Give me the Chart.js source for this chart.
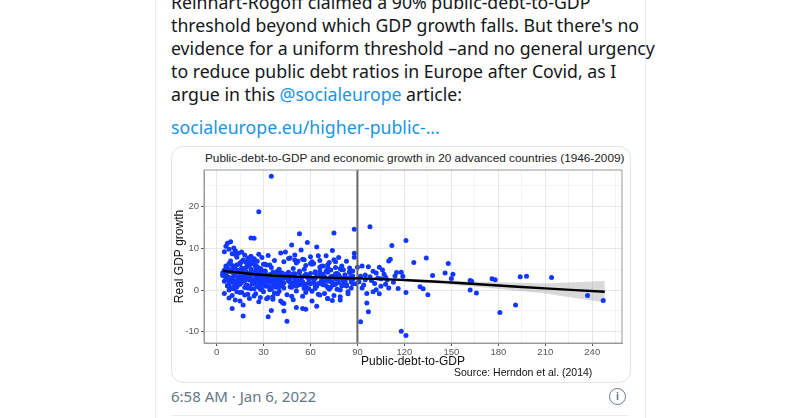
<!DOCTYPE html>
<html><head><meta charset="utf-8">
<script src="https://cdn.jsdelivr.net/npm/chart.js@4"></script>
<style>
body{margin:0;width:800px;height:418px;background:#fff;overflow:hidden;position:relative;font-family:"Segoe UI","Noto Sans",sans-serif}
.card{position:absolute;left:155px;top:-10px;width:489px;height:440px;border-left:1px solid #e6ecf0;border-right:1px solid #e6ecf0}
.txt{position:absolute;left:171px;font-size:17.7px;color:#14171a;white-space:nowrap;line-height:23px}
.lk{color:#1b95e0}
.img{position:absolute;left:171px;top:146px;width:458px;height:235px;border:1px solid #dfe5ea;border-radius:12px}
.ttl{position:absolute;left:205px;top:151px;font:11.8px "Liberation Sans",Arial;color:#222}
.src{position:absolute;left:454px;top:366px;font:10.5px "Liberation Sans",Arial;color:#111}
.time{position:absolute;left:171px;top:386px;font-size:15px;color:#657786}
.info{position:absolute;left:609px;top:388px;width:15px;height:15px;border:1.3px solid #657786;border-radius:50%;font:bold 11px "Liberation Sans";color:#657786;text-align:center;line-height:15px}
.div{position:absolute;left:171px;top:415px;width:458px;border-top:1px solid #e6ecf0}
</style></head><body>
<div class="card"></div>
<div class="txt" style="top:-9px">Reinhart-Rogoff claimed a 90% public-debt-to-GDP</div>
<div class="txt" style="top:14px">threshold beyond which GDP growth falls. But there's no</div>
<div class="txt" style="top:37px">evidence for a uniform threshold –and no general urgency</div>
<div class="txt" style="top:60px">to reduce public debt ratios in Europe after Covid, as I</div>
<div class="txt" style="top:83px">argue in this <span class="lk">@socialeurope</span> article:</div>
<div class="txt lk" style="top:116px">socialeurope.eu/higher-public-...</div>
<div class="img"></div>
<div class="ttl">Public-debt-to-GDP and economic growth in 20 advanced countries (1946-2009)</div>
<div style="position:absolute;left:172px;top:148px;width:457px;height:233px"><canvas id="c"></canvas></div>
<div class="src">Source: Herndon et al. (2014)</div>
<div class="time">6:58 AM · Jan 6, 2022</div>
<div class="info">i</div>
<div class="div"></div>
<script>
const debt = [35,27,22,24,53,75,88,98,112,121,126,134,148,146,151,138,150,162,163,162,166,176,178,181,191,194,198,214,237,247,118,121,92,97,96,17,33,45,43,51,55,57,64,10,17,35,41,130,132,135,121,116,104,108,110,115,118,119,110,111,100,104,106,97,98,95,93,90,88,88,
 5,6,7,8,9,10,11,12,13,14,15,16,17,18,19,20,21,22,23,24,25,26,27,28,29,30,
 5,6,7,8,9,10,11,12,13,14,15,16,17,18,19,20,21,22,23,24,25,26,27,28,29,30,
 4,6,7,9,10,12,13,15,16,18,19,21,22,24,25,27,28,30,31,33,34,36,37,39,40,42,
 5,7,8,9,11,12,14,15,17,18,20,21,23,24,26,27,29,30,32,33,35,36,38,39,41,42,
 31,33,35,37,39,41,43,45,47,49,51,53,55,57,59,61,63,65,67,69,71,73,75,77,79,81,
 32,34,36,38,40,42,44,46,48,50,52,54,56,58,60,62,64,66,68,70,72,74,76,78,80,82,
 44,46,48,50,52,54,56,58,60,62,64,66,68,70,72,74,76,78,80,83,85,87,
 45,47,49,51,53,55,57,59,61,63,65,67,69,71,73,75,77,79,81,84,86,
 6,8,11,14,18,21,25,29,33,38,42,47,52,57,62,67,72,77,82,86,
 7,9,12,16,19,23,26,31,36,40,44,49,54,58,63,68,73,78,83,87,
 8,10,13,15,20,22,28,32,37,43,48,56,61,66,71,74,79,84,
 91,93,95,99,101,102,103,105,107,109,113,114,100,94,96,102,105,108,92,99,
 9,12,16,20,24,28,34,40,46,50,56,60,66,70,76,80,85,
 4,5,6,7,8,9,10,11,12,13,14,15,16,17,18,19,20,21,22,23,24,25,26,27,28,29,31,32,33,34,
 4,5,6,7,8,9,10,11,12,13,14,15,16,17,18,19,20,21,22,23,24,25,26,27,28,29,31,32,33,34,
 35,36,37,38,39,40,41,43,44,46,47,48,49,50,52,53,54,55,57,58,59,60,62,63,64,65,67,68,69,70,
 71,72,73,74,76,77,78,79,81,82,83,84,85,86,87,89,36,41,46,51,56,61,66,71,76,81,
 11,15,19,23,27,31,35,39,43,47,51,55,59,63,67,71,75,79,83,87];
const growth = [27.3,18.8,12.5,12.4,13.5,13.7,14.6,15.2,10.7,11.9,6.6,7.7,6.4,4.1,3.8,3.5,2.8,2.3,2.1,0,-0.7,2.7,2.5,-5.4,-3.6,3.2,3.3,3,-1.3,-2.5,-9.9,-10.9,-7.6,-5.2,-3.1,-6.2,-6.4,-7.5,-5,-4.2,-4.4,-4.6,-3.9,-4.4,-3.6,-4.9,-2.6,0.8,0.3,-1.1,-0.6,0.4,-0.9,1.4,0.5,4.2,4.3,3.3,7,7.4,4.5,5.5,4.8,5.6,3.2,2.5,5.8,5.5,8.8,7.9,
 9.2,10.5,11.2,9.8,11.6,8.7,10.1,9.4,7.9,8.8,6.5,9.1,7.2,8.4,6.8,7.7,5.9,8.1,6.3,7.5,5.4,6.9,8.6,5.1,7.8,6.2,
 4.1,5.8,3.2,6.4,2.7,4.9,3.6,5.2,2.1,4.5,3.3,1.8,4.8,2.9,5.5,3.9,2.4,4.2,1.5,3.7,4.6,2.2,3.4,5.1,1.9,3.0,
 3.5,2.6,1.1,0.4,2.9,1.6,0.8,3.1,-0.5,2.3,1.2,0.6,3.8,1.7,-0.9,2.5,0.2,1.4,4.3,0.9,2.0,-1.6,1.3,3.2,-0.3,2.6,
 -0.8,1.0,-1.9,2.4,0.3,-2.4,1.8,-0.6,2.8,-1.2,0.5,-2.0,1.5,-1.4,0.9,-2.8,0.1,-0.4,2.2,-1.8,0.6,-2.2,1.1,-0.9,1.7,-3.0,
 6.2,8.3,5.4,7.1,4.6,8.9,6.8,3.9,7.7,5.2,6.5,4.1,7.4,5.9,3.6,6.8,4.4,8.2,5.7,3.2,6.1,4.8,7.3,3.5,5.1,2.8,
 2.4,3.7,1.6,4.2,2.9,1.1,3.5,2.2,0.7,3.9,1.8,2.6,0.4,3.1,1.5,2.8,0.9,3.6,1.9,2.3,0.2,3.3,1.4,2.7,1.0,2.1,
 9.1,7.6,10.8,8.4,6.9,9.6,7.3,11.4,8.0,6.4,10.3,7.1,5.8,8.2,6.6,9.5,5.4,7.8,4.9,6.9,5.3,4.6,
 -1.1,0.8,-2.3,-0.2,1.3,-1.5,-0.6,1.9,-2.6,0.4,-1.0,1.6,-0.8,-2.0,0.7,-1.3,0.2,-2.4,1.2,-0.4,0.5,
 4.0,2.2,5.6,1.4,4.4,3.1,2.6,4.7,3.4,2.5,4.1,3.0,2.3,3.8,2.7,3.5,2.1,3.9,2.4,3.2,
 2.8,4.6,1.2,5.0,0.7,2.5,3.9,1.0,4.3,0.8,3.6,1.7,2.9,0.5,4.1,1.3,2.2,3.7,1.1,2.6,
 0.0,-1.3,-0.4,-2.6,-1.0,0.3,-1.8,-2.1,-0.7,-3.2,-1.5,0.6,-0.3,-1.2,-2.0,-2.5,-1.6,-0.9,
 2.0,0.5,3.6,2.3,1.6,4.1,2.9,0.9,3.8,2.5,1.9,3.4,-0.4,1.2,-0.8,0.1,2.7,3.1,3.3,2.4,
 7.0,8.5,5.2,6.3,7.4,3.8,6.0,5.0,4.3,7.2,3.4,6.4,5.5,4.6,3.9,5.8,4.2,3.6,4.8,3.1,5.3,
 3.0,4.4,5.9,2.3,3.7,6.1,4.7,2.8,5.3,3.2,4.0,6.6,3.5,2.6,5.0,4.3,2.0,3.8,5.6,4.9,2.9,3.4,4.5,6.0,2.5,3.6,4.2,2.1,3.9,5.2,
 1.2,2.0,0.5,1.6,3.4,0.9,2.7,1.4,6.8,2.3,0.6,3.0,1.1,7.2,2.6,1.8,0.3,5.9,2.9,1.5,0.8,2.2,4.6,1.0,2.8,0.1,2.5,1.3,2.0,0.7,
 3.3,2.2,4.1,1.7,2.9,3.6,2.4,1.2,3.9,2.7,1.8,4.5,3.1,2.0,1.4,3.5,2.6,4.0,1.9,2.8,3.4,1.6,2.3,3.8,2.9,1.1,4.3,2.5,3.2,1.7,
 2.6,4.0,1.8,3.1,2.2,3.7,1.3,2.9,4.4,2.0,3.4,1.5,2.7,3.9,2.3,1.9,5.0,6.2,4.6,5.4,6.8,4.9,5.7,6.3,4.4,6.6,
 0.8,1.6,0.2,1.2,0.5,1.9,0.9,1.4,0.3,1.1,1.7,0.6,1.3,0.0,1.0,1.5,0.4,1.8,0.7,1.2];
const fitX = [4,30,60,90,120,150,180,210,248];
const fitY = [4.6,3.6,3.1,2.8,2.4,1.8,1.1,0.4,-0.4];
const bandHi = [5.1,3.9,3.3,3.0,2.7,2.3,1.9,1.6,2.2];
const bandLo = [4.1,3.3,2.9,2.5,2.1,1.3,0.3,-0.8,-3.0];

const pts = debt.map((d, i) => ({ x: d, y: growth[i] }));
const xy = (xs, ys) => xs.map((x, i) => ({ x: x, y: ys[i] }));
const line = { pointRadius: 0, showLine: true, type: 'line' };

new Chart(document.getElementById('c'), {
    type: 'scatter',
    data: {
        datasets: [
            { ...line, order: 5, data: xy(fitX, bandLo), borderWidth: 0, backgroundColor: 'rgba(153,153,153,0.4)', fill: false },
            { ...line, order: 4, data: xy(fitX, bandHi), borderWidth: 0, backgroundColor: 'rgba(170,170,170,0.45)', fill: '-1' },
            { order: 3, data: pts, pointRadius: 2.5, pointBackgroundColor: '#1238ff', pointBorderWidth: 0 },
            { ...line, order: 2, data: [{ x: 90, y: -12.7 }, { x: 90, y: 28.8 }], borderColor: '#666', borderWidth: 2 },
            { ...line, order: 1, data: xy(fitX, fitY), borderColor: '#000', borderWidth: 2.4, tension: 0.4 }
        ]
    },
    options: {
        responsive: true,
        maintainAspectRatio: false,
        animation: false,
        layout: { padding: { top: 22, right: 7, bottom: 12 } },
        plugins: { legend: { display: false }, tooltip: { enabled: false } },
        scales: {
            x: {
                min: -8, max: 259,
                afterFit: s => { s.height = 26; },
                afterBuildTicks: s => { s.ticks = [0,15,30,45,60,75,90,105,120,135,150,165,180,195,210,225,240,255].map(v => ({ value: v })); },
                grid: { color: c => c.tick && c.tick.value % 30 ? '#f4f4f4' : '#e6e6e6', drawTicks: true, tickLength: 3, tickColor: c => c.tick && c.tick.value % 30 ? 'rgba(0,0,0,0)' : '#555' },
                border: { color: '#999' },
                ticks: { autoSkip: false, maxRotation: 0, padding: 1, color: '#555', font: { family: 'Liberation Sans', size: 9.5 }, callback: v => v % 30 ? '' : v },
                title: { display: true, text: 'Public-debt-to-GDP', color: '#111', padding: 0, font: { family: 'Liberation Sans', size: 12 } }
            },
            y: {
                min: -12.7, max: 28.8,
                afterFit: s => { s.width = 32; },
                afterBuildTicks: s => { s.ticks = [-10,-5,0,5,10,15,20,25].map(v => ({ value: v })); },
                grid: { color: c => c.tick && c.tick.value % 10 ? '#f4f4f4' : '#e6e6e6', tickLength: 3, tickColor: c => c.tick && c.tick.value % 10 ? 'rgba(0,0,0,0)' : '#555' },
                border: { color: '#999' },
                ticks: { autoSkip: false, padding: 2, color: '#555', font: { family: 'Liberation Sans', size: 9.5 }, callback: v => v % 10 ? '' : v },
                title: { display: true, text: 'Real GDP growth', color: '#111', padding: 0, font: { family: 'Liberation Sans', size: 12 } }
            }
        }
    },
    plugins: [{
        id: 'frame',
        afterDraw(chart) {
            const a = chart.chartArea, g = chart.ctx;
            g.save(); g.strokeStyle = '#999'; g.lineWidth = 1;
            g.strokeRect(a.left, a.top, a.right - a.left, a.bottom - a.top); g.restore();
        }
    }]
});
</script>
</body></html>
